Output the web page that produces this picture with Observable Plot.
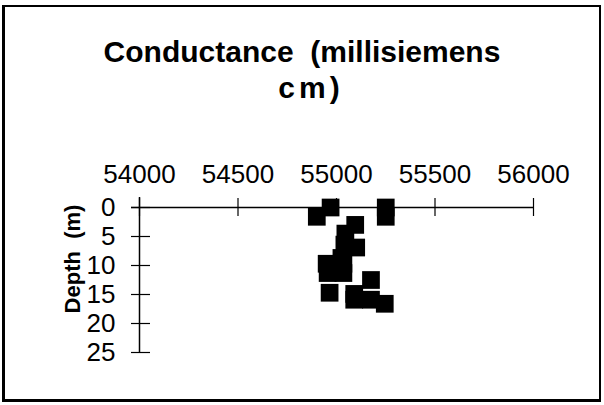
<!DOCTYPE html>
<html><head><meta charset="utf-8">
<script src="https://cdn.jsdelivr.net/npm/d3@7"></script>
<script src="https://cdn.jsdelivr.net/npm/@observablehq/plot@0.6"></script>
<style>
html,body{margin:0;padding:0;background:#fff;}
#page{position:relative;width:604px;height:405px;overflow:hidden;font-family:"Liberation Sans",Arial,Helvetica,sans-serif;color:#000;}
#frame{position:absolute;left:2px;top:5px;width:599px;height:397px;box-sizing:border-box;border:2px solid #000;border-left-width:3px;border-bottom-width:3px;}
#title{position:absolute;left:0;top:35px;width:604px;text-align:center;font-weight:bold;font-size:30px;line-height:34px;white-space:pre;}
#title .l2{letter-spacing:4px;padding-left:18px;margin-top:2px;}
#chart{position:absolute;left:0;top:140px;}
</style></head><body>
<div id="page"><div id="frame"></div><div id="title"></div><div id="chart"></div></div>
<script>
const titleLines = ["Conductance  (millisiemens", "cm)"];
const yLabel = "Depth  (m)";
const xTicks = [54000, 54500, 55000, 55500, 56000];
const yTicks = [0, 5, 10, 15, 20, 25];
const conductance = [54970, 54900, 55250, 55250, 55095, 55045, 55040, 55100, 55025, 54950, 55035, 54955, 55035, 55175, 54965, 55090, 55090, 55175, 55245];
const depth = [0, 1.6, 0, 1.6, 3.0, 4.5, 6.4, 6.9, 8.7, 9.7, 9.7, 11.3, 11.3, 12.5, 14.7, 14.9, 15.9, 15.9, 16.6];

const data = conductance.map((c, i) => ({conductance: c, depth: depth[i]}));

const titleEl = document.getElementById("title");
titleLines.forEach((t, i) => {
  const d = document.createElement("div");
  d.className = "l" + (i + 1);
  d.textContent = t;
  titleEl.appendChild(d);
});

const chart = Plot.plot({
  width: 604,
  height: 240,
  marginTop: 67,
  marginBottom: 28,
  marginLeft: 139,
  marginRight: 71,
  style: {fontFamily: '"Liberation Sans", Arial, Helvetica, sans-serif', color: "#000", background: "transparent", overflow: "visible"},
  x: {domain: [xTicks[0], xTicks[xTicks.length - 1]]},
  y: {domain: [yTicks[0], yTicks[yTicks.length - 1]], reverse: true},
  marks: [
    Plot.axisX(xTicks, {anchor: "top", tickSize: 0, tickPadding: 25, fontSize: 26, tickFormat: d => String(d), label: null}),
    Plot.axisY(yTicks, {anchor: "left", tickSize: 0, tickPadding: 24, fontSize: 26, tickFormat: d => String(d), label: null}),
    Plot.ruleY([yTicks[0]], {insetLeft: -8, stroke: "#000", strokeWidth: 1.5}),
    Plot.ruleX([xTicks[0]], {y1: yTicks[0], y2: yTicks[yTicks.length - 1], insetTop: -10, stroke: "#000", strokeWidth: 1.5}),
    Plot.ruleX(xTicks, {y1: yTicks[0], y2: yTicks[0], insetTop: -9, insetBottom: -9, stroke: "#000", strokeWidth: 1.2}),
    Plot.ruleY(yTicks, {x1: xTicks[0], x2: xTicks[0], insetLeft: -8, insetRight: -11, stroke: "#000", strokeWidth: 1.2}),
    Plot.dot(data, {x: "conductance", y: "depth", symbol: "square", r: 10, fill: "#000", stroke: "none"}),
    Plot.text([yLabel], {frameAnchor: "left", textAnchor: "middle", lineAnchor: "middle", rotate: -90, dx: -67, dy: -21, fontSize: 22, fontWeight: "bold"})
  ]
});
document.getElementById("chart").appendChild(chart);
</script>
</body></html>
